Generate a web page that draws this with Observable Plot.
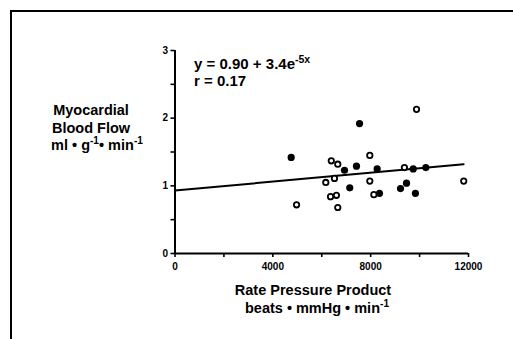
<!DOCTYPE html>
<html><head><meta charset="utf-8">
<script src="https://cdn.jsdelivr.net/npm/d3@7"></script>
<script src="https://cdn.jsdelivr.net/npm/@observablehq/plot@0.6"></script>
<style>
html,body{margin:0;padding:0;background:#fff;}
#wrap{position:relative;width:513px;height:339px;overflow:hidden;}
#frame{position:absolute;left:10px;top:10px;width:600px;height:400px;border:2px solid #000;box-sizing:border-box;pointer-events:none;}
#wrap svg{position:absolute;left:0;top:0;}
</style></head><body><div id="wrap"><div id="frame"></div></div>
<script>
// Filled circles
const filledX = [4750, 6930, 7145, 7420, 7545, 8265, 8360, 9220, 9465, 9740, 9830, 10255];
const filledY = [1.42, 1.23, 0.97, 1.29, 1.92, 1.25, 0.89, 0.96, 1.04, 1.25, 0.89, 1.27];
// Open circles
const openX = [4970, 6165, 6390, 6655, 6520, 6360, 6600, 6655, 7965, 7965, 8130, 9380, 9875, 11805];
const openY = [0.72, 1.05, 1.37, 1.32, 1.11, 0.84, 0.86, 0.68, 1.45, 1.07, 0.87, 1.27, 2.13, 1.07];
// Regression line endpoints
const fitX = [0, 11800];
const fitY = [0.93, 1.32];
// Ticks
const xTicks = [0, 2000, 4000, 6000, 8000, 10000, 12000];
const xTickLabels = ["0", "", "4000", "", "8000", "", "12000"];
const yTicks = [0, 0.5, 1, 1.5, 2, 2.5, 3];
const yTickLabels = ["0", "", "1", "", "2", "", "3"];

const filled = filledX.map((x, i) => ({x, y: filledY[i]}));
const open = openX.map((x, i) => ({x, y: openY[i]}));
const fit = fitX.map((x, i) => ({x, y: fitY[i]}));

const FONT = "'Liberation Sans', Arial, Helvetica, sans-serif";

const plot = Plot.plot({
  width: 513, height: 339,
  marginLeft: 174.5, marginRight: 45, marginTop: 50, marginBottom: 86,
  x: {domain: [0, 12000]},
  y: {domain: [0, 3]},
  style: {fontFamily: FONT, background: "transparent", color: "#000"},
  marks: [
    Plot.ruleX([0], {y1: 0, y2: 3, stroke: "#000", strokeWidth: 2}),
    Plot.ruleY([0], {x1: 0, x2: 12000, stroke: "#000", strokeWidth: 2}),
    Plot.axisY({ticks: yTicks, tickSize: 4, tickPadding: 3, label: null, strokeWidth: 1.6,
      tickFormat: (d) => yTickLabels[yTicks.indexOf(d)], fontSize: 10, fontWeight: "bold"}),
    Plot.axisX({ticks: xTicks, tickSize: 4, tickPadding: 5, label: null, strokeWidth: 1.6,
      tickFormat: (d) => xTickLabels[xTicks.indexOf(d)], fontSize: 10, fontWeight: "bold"}),
    Plot.line(fit, {x: "x", y: "y", stroke: "#000", strokeWidth: 2}),
    Plot.dot(filled, {x: "x", y: "y", r: 3.6, fill: "#000", stroke: "none"}),
    Plot.dot(open, {x: "x", y: "y", r: 2.7, fill: "#fff", stroke: "#000", strokeWidth: 1.8})
  ]
});
document.getElementById("wrap").appendChild(plot);

const svg = d3.select(plot);
function addText(x, y, anchor, parts, size, weight) {
  const t = svg.append("text")
    .attr("x", x).attr("y", y)
    .attr("text-anchor", anchor)
    .style("font-family", FONT)
    .style("font-size", size + "px")
    .style("font-weight", weight || "bold")
    .attr("fill", "#000");
  parts.forEach(p => {
    const s = t.append("tspan").text(p.t);
    if (p.sup) {
      s.attr("dy", -size * 0.38).style("font-size", (size * 0.7) + "px");
    } else if (p.after) {
      s.attr("dy", size * 0.38);
    }
  });
  return t;
}
const sx = plot.scale("x"), sy = plot.scale("y");
// Equation
addText(sx.apply(800), sy.apply(2.72), "start",
  [{t: "y = 0.90 + 3.4e"}, {t: "-5x", sup: true}], 15);
addText(sx.apply(800), sy.apply(2.47), "start", [{t: "r = 0.17"}], 15);

// Y label
addText(91, 115, "middle", [{t: "Myocardial"}], 14.5);
addText(91, 133, "middle", [{t: "Blood Flow"}], 14.5);
addText(97, 150, "middle", [{t: "ml • g"}, {t: "-1", sup: true}, {t: "• min", after: true}, {t: "-1", sup: true}], 14.5);

// X label
addText(313, 295, "middle", [{t: "Rate Pressure Product"}], 14.5);
addText(317, 313, "middle", [{t: "beats • mmHg • min"}, {t: "-1", sup: true}], 14.5);
</script>
</body></html>
